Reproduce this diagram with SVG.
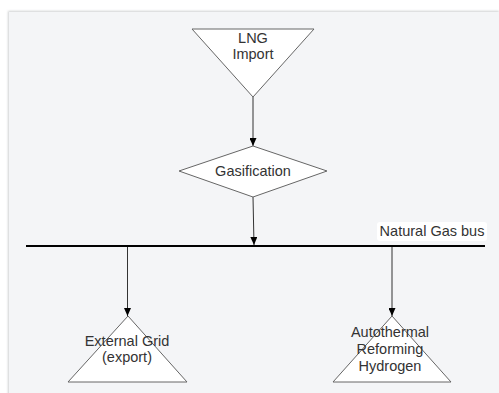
<svg xmlns="http://www.w3.org/2000/svg" width="499" height="393" viewBox="0 0 499 393">
  <defs>
    <marker id="arrow" viewBox="0 0 10 10" refX="10" refY="5" markerWidth="8" markerHeight="7" markerUnits="userSpaceOnUse" orient="auto" preserveAspectRatio="none">
      <path d="M0,0 L10,5 L0,10 z" fill="#000"/>
    </marker>
    <filter id="shadow" x="-5%" y="-5%" width="110%" height="110%">
      <feGaussianBlur stdDeviation="1"/>
    </filter>
  </defs>
  <style>
    .shape { fill: #ffffff; stroke: #666666; stroke-width: 1; }
    .label { font-family: "Liberation Sans", Arial, sans-serif; font-size: 14.5px; fill: #333333; text-anchor: middle; }
    .edge { fill: none; stroke: #333333; stroke-width: 1; marker-end: url(#arrow); }
    .bus { stroke: #000000; stroke-width: 2; }
  </style>
  <!-- canvas -->
  <rect x="0" y="0" width="499" height="393" fill="#ffffff"/>
  <rect x="8" y="11" width="491" height="390" fill="#cfd0d2" filter="url(#shadow)"/>
  <rect x="9" y="12" width="490" height="390" fill="#f4f5f7"/>

  <g id="connectors">
    <line class="edge" x1="253" y1="97" x2="253" y2="146"/>
    <line class="edge" x1="253" y1="197" x2="254" y2="245"/>
    <line class="edge" x1="127.5" y1="247" x2="127.5" y2="316"/>
    <line class="edge" x1="392" y1="247" x2="392" y2="316"/>
  </g>

  <g id="bus">
    <line class="bus" x1="26" y1="246" x2="485" y2="246"/>
    <rect x="377" y="222" width="110" height="19" rx="3" fill="#ffffff"/>
    <text class="label" x="432" y="236">Natural Gas bus</text>
  </g>

  <g id="lng-import">
    <polygon class="shape" points="192,29 314,29 253,97"/>
    <text class="label" x="253" y="43">LNG</text>
    <text class="label" x="253" y="59">Import</text>
  </g>

  <g id="gasification">
    <polygon class="shape" points="179,171 253,146 327,171 253,197"/>
    <text class="label" x="253" y="176">Gasification</text>
  </g>

  <g id="external-grid">
    <polygon class="shape" points="128,316 187,382 68,382"/>
    <text class="label" x="127" y="346">External Grid</text>
    <text class="label" x="127" y="362">(export)</text>
  </g>

  <g id="autothermal-reforming">
    <polygon class="shape" points="392,316 451,382 333,382"/>
    <text class="label" x="390" y="337">Autothermal</text>
    <text class="label" x="390" y="354">Reforming</text>
    <text class="label" x="390" y="371">Hydrogen</text>
  </g>
</svg>
